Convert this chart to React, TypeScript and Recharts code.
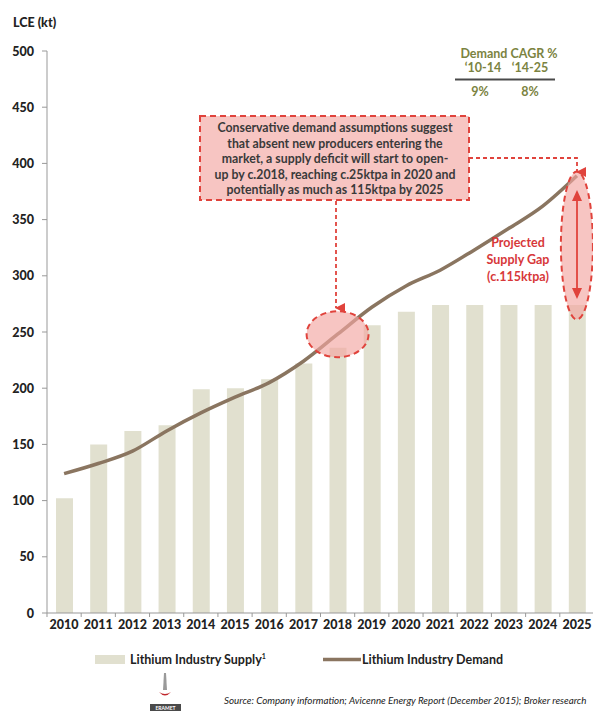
import React from "react";
import {
  ComposedChart,
  Bar,
  Line,
  XAxis,
  YAxis,
  ReferenceDot,
} from "recharts";

const years = ["2010","2011","2012","2013","2014","2015","2016","2017","2018","2019","2020","2021","2022","2023","2024","2025"];
const supply = [102, 150, 162, 167, 199, 200, 208, 222, 236, 256, 268, 274, 274, 274, 274, 274];
const demand = [124, 133, 144, 162, 178, 192, 205, 224, 248, 272, 291, 305, 323, 342, 362, 389];
const yTicks = [0, 50, 100, 150, 200, 250, 300, 350, 400, 450, 500];

const data = years.map((y, i) => ({ year: y, supply: supply[i], demand: demand[i] }));

const FONT = "Lato, 'DejaVu Sans', sans-serif";
const RED = "#E0433C";
const PINK = "#F2A6A1";
const OLIVE = "#7B8341";
const BAR = "#E1E0CF";
const LINE = "#8A7560";

const XTick = (props: any) => {
  const { x, y, payload, index } = props;
  const half = 17.1;
  return (
    <g>
      <line x1={x - half} y1={y - 8} x2={x - half} y2={y - 4} stroke="#999" strokeWidth={1} />
      {index === years.length - 1 && (
        <line x1={x + half} y1={y - 8} x2={x + half} y2={y - 4} stroke="#999" strokeWidth={1} />
      )}
      <text x={x} y={y + 8} textAnchor="middle" fontFamily={FONT} fontWeight={900} fontSize={12.5} fill="#222">
        {payload.value}
      </text>
    </g>
  );
};

const YTick = (props: any) => {
  const { x, y, payload } = props;
  return (
    <text x={x} y={y + 4.5} textAnchor="end" fontFamily={FONT} fontWeight={900} fontSize={12.5} fill="#222">
      {payload.value}
    </text>
  );
};

const Ellipse = (rx: number, ry: number) => (props: any) => {
  const { cx, cy } = props;
  return (
    <ellipse cx={cx} cy={cy} rx={rx} ry={ry} fill={PINK} fillOpacity={0.65} stroke={RED} strokeWidth={2} strokeDasharray="6 4" />
  );
};

const boxLines = [
  "Conservative demand assumptions suggest",
  "that absent new producers entering the",
  "market, a supply deficit will start to open-",
  "up by c.2018, reaching c.25ktpa in 2020 and",
  "potentially as much as 115ktpa by 2025",
];

const gapLines = ["Projected", "Supply Gap", "(c.115ktpa)"];

export default function App() {
  return (
    <div style={{ position: "absolute", left: 0, top: 0, width: 593, height: 711, overflow: "hidden", background: "#fff" }}>
      <div style={{ position: "absolute", left: 0, top: 0 }}>
        <ComposedChart width={600} height={711} data={data} margin={{ top: 51, right: 6, left: 0, bottom: 68 }} barSize={17}>
          <YAxis
            domain={[0, 500]}
            ticks={yTicks}
            width={47}
            tick={<YTick />}
            tickSize={5}
            tickMargin={8}
            axisLine={{ stroke: "#999" }}
            tickLine={{ stroke: "#999" }}
            interval={0}
          />
          <XAxis
            dataKey="year"
            height={30}
            tick={<XTick />}
            tickLine={false}
            axisLine={{ stroke: "#999" }}
            interval={0}
          />
          <Bar dataKey="supply" fill={BAR} isAnimationActive={false} />
          <ReferenceDot x="2018" y={248} r={30} shape={Ellipse(31, 23)} ifOverflow="visible" />
          <ReferenceDot x="2025" y={327} r={30} shape={Ellipse(16, 74)} ifOverflow="visible" />
          <Line dataKey="demand" type="monotone" stroke={LINE} strokeWidth={3.5} dot={false} isAnimationActive={false} />
        </ComposedChart>
      </div>
      <svg width={593} height={711} style={{ position: "absolute", left: 0, top: 0, pointerEvents: "none" }}>
        <defs>
          <marker id="ah" markerWidth="10" markerHeight="10" refX="5" refY="9" orient="auto" markerUnits="userSpaceOnUse" viewBox="0 0 10 10">
            <path d="M0,0 L10,0 L5,10 z" fill={RED} />
          </marker>
        </defs>
        <text x={13} y={27} fontFamily={FONT} fontWeight={900} fontSize={12.5} fill="#222">LCE (kt)</text>

        {/* CAGR table */}
        <text x={509} y={58} textAnchor="middle" fontFamily={FONT} fontWeight={700} fontSize={12.5} fill={OLIVE}>Demand CAGR %</text>
        <text x={483} y={72} textAnchor="middle" fontFamily={FONT} fontWeight={700} fontSize={12.5} fill={OLIVE}>‘10-14</text>
        <text x={530} y={72} textAnchor="middle" fontFamily={FONT} fontWeight={700} fontSize={12.5} fill={OLIVE}>‘14-25</text>
        <line x1={455} y1={79.5} x2={555} y2={79.5} stroke="#4a4a4a" strokeWidth={2} />
        <text x={480} y={96} textAnchor="middle" fontFamily={FONT} fontWeight={700} fontSize={12.5} fill={OLIVE}>9%</text>
        <text x={530} y={96} textAnchor="middle" fontFamily={FONT} fontWeight={700} fontSize={12.5} fill={OLIVE}>8%</text>

        {/* annotation box */}
        <rect x={200} y={116} width={269} height={84} fill={PINK} fillOpacity={0.65} stroke={RED} strokeWidth={2} strokeDasharray="6 4" />
        {boxLines.map((t, i) => (
          <text key={i} x={335} y={132 + i * 15.5} textAnchor="middle" fontFamily={FONT} fontWeight={700} fontSize={12.3} fill="#3a3a3a">{t}</text>
        ))}
        <line x1={336} y1={201} x2={336} y2={308} stroke={RED} strokeWidth={1.8} strokeDasharray="4 3" markerEnd="url(#ah)" />
        <polyline points="469,158 577,158 577,172" fill="none" stroke={RED} strokeWidth={1.8} strokeDasharray="4 3" markerEnd="url(#ah)" />

        {/* gap double arrow */}
        <line x1={577} y1={192} x2={577} y2={297} stroke={RED} strokeWidth={1.8} />
        <path d="M577,190 L572,201 L582,201 z" fill={RED} />
        <path d="M577,299 L572,288 L582,288 z" fill={RED} />
        {gapLines.map((t, i) => (
          <text key={i} x={518} y={247 + i * 17} textAnchor="middle" fontFamily={FONT} fontWeight={700} fontSize={12.5} fill="#D7383A">{t}</text>
        ))}

        {/* legend */}
        <rect x={95} y={655} width={30} height={9} fill={BAR} />
        <text x={130} y={664} fontFamily={FONT} fontWeight={700} fontSize={12.5} fill="#222">
          Lithium Industry Supply<tspan fontSize={7} dy={-5}>1</tspan>
        </text>
        <line x1={323} y1={659.5} x2={361} y2={659.5} stroke={LINE} strokeWidth={3.5} />
        <text x={362} y={664} fontFamily={FONT} fontWeight={700} fontSize={12.5} fill="#222">Lithium Industry Demand</text>

        {/* logo */}
        <path d="M164,673 L166,673 L167,690 L163,690 z" fill="#9a9a9a" />
        <path d="M159,692 Q165,699 171,692 Q165,696 159,692 z" fill="#c0262b" />
        <rect x={150} y={704} width={31} height={7} fill="#4a4a4a" />
        <text x={165.5} y={710} textAnchor="middle" fontFamily={FONT} fontWeight={700} fontSize={5} fill="#fff">ERAMET</text>

        <text x={224} y={704} fontFamily={FONT} fontStyle="italic" fontSize={9.8} fill="#222">Source: Company information; Avicenne Energy Report (December 2015); Broker research</text>
      </svg>
    </div>
  );
}
